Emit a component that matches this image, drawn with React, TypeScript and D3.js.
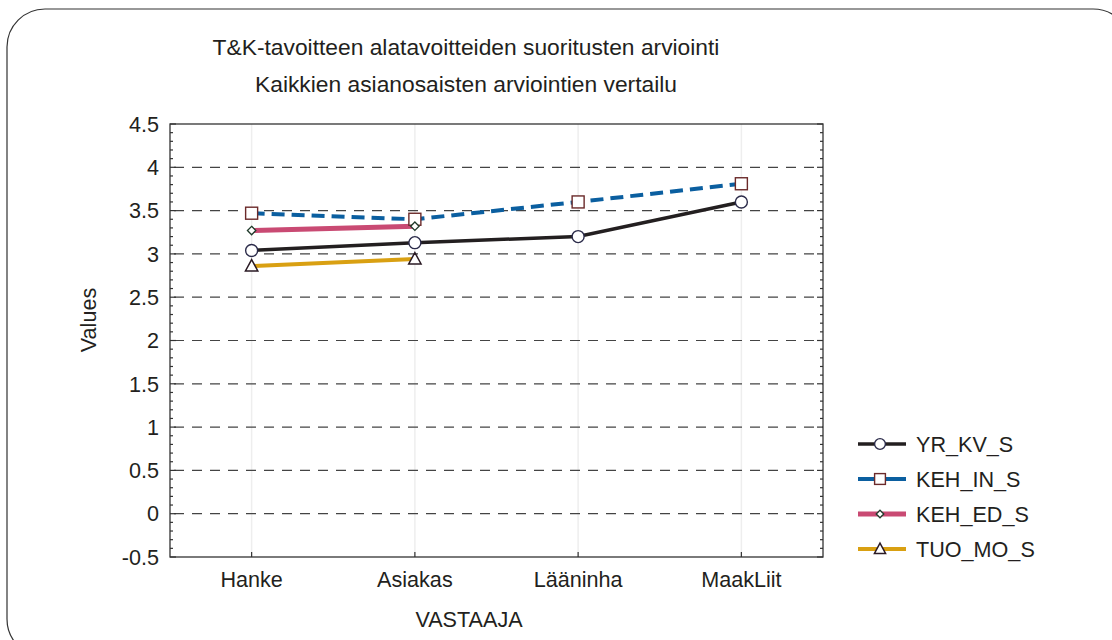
import React from "react";
import * as d3 from "d3";

const categories = ["Hanke", "Asiakas", "Lääninha", "MaakLiit"];
const yrKvS = [3.04, 3.13, 3.2, 3.6];
const kehInS = [3.47, 3.4, 3.6, 3.81];
const kehEdS = [3.27, 3.32];
const tuoMoS = [2.86, 2.94];
const yTicks = [-0.5, 0, 0.5, 1, 1.5, 2, 2.5, 3, 3.5, 4, 4.5];
const seriesNames = ["YR_KV_S", "KEH_IN_S", "KEH_ED_S", "TUO_MO_S"];
const titleLines = [
  "T&K-tavoitteen alatavoitteiden suoritusten arviointi",
  "Kaikkien asianosaisten arviointien vertailu",
];

const W = 1112;
const H = 640;
const L = 170, R = 823, T = 124, B = 557;
const FONT = "'Liberation Sans', Arial, Helvetica, sans-serif";
const FS = 21.6;
const FT = 22.8;
const TXT = "#231f20";

type Series = {
  name: string;
  values: number[];
  color: string;
  width: number;
  dash?: string;
  marker: "circle" | "square" | "diamond" | "triangle";
  mStroke: string;
};

const series: Series[] = [
  { name: seriesNames[0], values: yrKvS, color: "#231f20", width: 3.5, marker: "circle", mStroke: "#2b2b4a" },
  { name: seriesNames[1], values: kehInS, color: "#0b5fa0", width: 4, dash: "13,7", marker: "square", mStroke: "#6b2a2a" },
  { name: seriesNames[2], values: kehEdS, color: "#c94a73", width: 5, marker: "diamond", mStroke: "#1f3a2a" },
  { name: seriesNames[3], values: tuoMoS, color: "#d9a012", width: 4, marker: "triangle", mStroke: "#2a1a24" },
];

function Marker({ kind, x, y, stroke, size }: { kind: string; x: number; y: number; stroke: string; size: number }) {
  if (kind === "circle") return <circle cx={x} cy={y} r={size} fill="#fff" stroke={stroke} strokeWidth={1.4} />;
  if (kind === "square")
    return <rect x={x - size} y={y - size} width={size * 2} height={size * 2} fill="#fff" stroke={stroke} strokeWidth={1.4} />;
  if (kind === "diamond")
    return (
      <path d={`M${x},${y - size}L${x + size},${y}L${x},${y + size}L${x - size},${y}Z`} fill="#fff" stroke={stroke} strokeWidth={1.3} />
    );
  return (
    <path d={`M${x},${y - size}L${x + size * 0.95},${y + size * 0.75}L${x - size * 0.95},${y + size * 0.75}Z`} fill="#fff" stroke={stroke} strokeWidth={1.5} />
  );
}

const markerSize: Record<string, number> = { circle: 6, square: 6, diamond: 4.2, triangle: 6.5 };

export default function App() {
  const x = d3.scalePoint<string>().domain(categories).range([L, R]).padding(0.5);
  const y = d3.scaleLinear().domain([-0.5, 4.5]).range([B, T]);
  const minor = d3.range(-0.5, 4.5001, 0.1);

  return (
    <svg width={W} height={H} style={{ position: "fixed", left: 0, top: 0, background: "#fff" }}>
      <rect x={7} y={9} width={1124} height={648} rx={38} ry={38} fill="none" stroke="#333" strokeWidth={1.2} />
      {titleLines.map((t, i) => (
        <text key={i} x={466} y={55 + i * 37} textAnchor="middle" fontFamily={FONT} fontSize={FT} fill={TXT}>
          {t}
        </text>
      ))}
      {/* vertical faint gridlines */}
      {categories.map((c) => (
        <line key={c} x1={x(c)} x2={x(c)} y1={T} y2={B} stroke="#eeeeee" strokeWidth={1.5} />
      ))}
      {/* horizontal dashed gridlines */}
      {yTicks.filter((t) => t > -0.5 && t < 4.5).map((t) => (
        <line key={t} x1={L} x2={R} y1={y(t)} y2={y(t)} stroke="#444" strokeWidth={1.2} strokeDasharray="10,8" strokeDashoffset={-4} />
      ))}
      {/* axes box */}
      <rect x={L} y={T} width={R - L} height={B - T} fill="none" stroke="#333" strokeWidth={1.3} />
      {minor.map((t, i) => {
        const major = i % 5 === 0;
        const len = major ? 6 : 3;
        return (
          <g key={i}>
            <line x1={L} x2={L + len} y1={y(t)} y2={y(t)} stroke="#333" strokeWidth={1.2} />
            <line x1={R} x2={R - len} y1={y(t)} y2={y(t)} stroke="#333" strokeWidth={1.2} />
          </g>
        );
      })}
      {categories.map((c) => (
        <line key={c} x1={x(c)} x2={x(c)} y1={B} y2={B - 5} stroke="#333" strokeWidth={1.2} />
      ))}
      {/* y tick labels */}
      {yTicks.map((t) => (
        <text key={t} x={L - 11} y={y(t) + 7.7} textAnchor="end" fontFamily={FONT} fontSize={FS} fill={TXT}>
          {t}
        </text>
      ))}
      {/* x tick labels */}
      {categories.map((c) => (
        <text key={c} x={x(c)} y={B + 30} textAnchor="middle" fontFamily={FONT} fontSize={FS} fill={TXT}>
          {c}
        </text>
      ))}
      <text x={469} y={627} textAnchor="middle" fontFamily={FONT} fontSize={FS} fill={TXT}>
        VASTAAJA
      </text>
      <text transform={`translate(96,320) rotate(-90)`} textAnchor="middle" fontFamily={FONT} fontSize={FS} fill={TXT}>
        Values
      </text>
      {/* series lines */}
      {series.map((s) => {
        const line = d3
          .line<number>()
          .x((_, i) => x(categories[i]) as number)
          .y((v) => y(v));
        return (
          <path key={s.name} d={line(s.values) || ""} fill="none" stroke={s.color} strokeWidth={s.width} strokeDasharray={s.dash} />
        );
      })}
      {series.map((s) =>
        s.values.map((v, i) => (
          <Marker key={s.name + i} kind={s.marker} x={x(categories[i]) as number} y={y(v)} stroke={s.mStroke} size={markerSize[s.marker]} />
        ))
      )}
      {/* legend */}
      {series.map((s, i) => {
        const ly = 444 + i * 35;
        return (
          <g key={s.name}>
            <line x1={858} x2={906} y1={ly} y2={ly} stroke={s.color} strokeWidth={s.width} />
            <Marker kind={s.marker} x={880} y={ly} stroke={s.mStroke} size={markerSize[s.marker] * 0.9} />
            <text x={916} y={ly + 7.7} fontFamily={FONT} fontSize={FS} fill={TXT}>
              {s.name}
            </text>
          </g>
        );
      })}
    </svg>
  );
}
